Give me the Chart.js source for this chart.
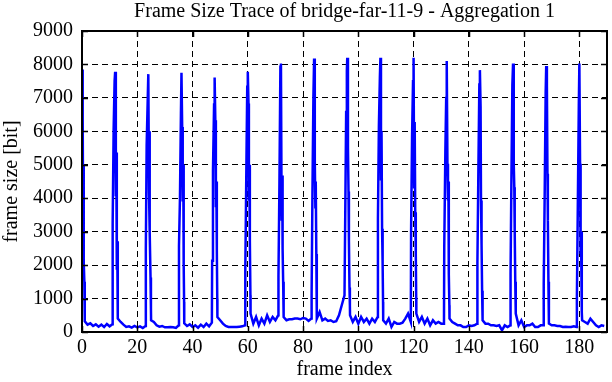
<!DOCTYPE html>
<html>
<head>
<meta charset="utf-8">
<script src="https://cdn.jsdelivr.net/npm/chart.js@4/dist/chart.umd.min.js"></script>
<style>
  html, body { margin: 0; padding: 0; background: #fff; }
  #wrap { width: 612px; height: 382px; }
</style>
</head>
<body>
<div id="wrap"><canvas id="chart" width="612" height="382"></canvas></div>
<script>
// frame size per integer frame index 0..189 (I-frame peaks every 12 frames)
const frameSizes = [
  7850, 320, 220, 260, 180, 230, 160, 220, 150, 240, 170, 230,
  7780, 400, 300, 220, 150, 170, 130, 180, 140, 170, 120, 180,
  7710, 350, 300, 200, 160, 180, 140, 140, 150, 140, 120, 200,
  7750, 260, 180, 230, 150, 200, 130, 220, 150, 250, 170, 280,
  7610, 450, 350, 250, 180, 150, 150, 150, 150, 160, 170, 200,
  7780, 550, 250, 450, 200, 400, 250, 500, 300, 450, 350, 500,
  8030, 450, 350, 380, 380, 400, 400, 380, 420, 400, 330, 400,
  8180, 400, 600, 350, 400, 330, 350, 300, 320, 500, 800, 1100,
  8200, 500, 300, 450, 250, 450, 300, 400, 250, 400, 300, 450,
  8200, 350, 250, 400, 150, 300, 250, 250, 280, 400, 550, 300,
  8200, 550, 300, 450, 250, 400, 200, 350, 250, 300, 250, 250,
  8100, 400, 300, 250, 200, 200, 150, 150, 200, 180, 200, 250,
  7830, 350, 250, 250, 200, 200, 180, 200, 50, 200, 150, 200,
  8030, 550, 200, 350, 150, 200, 200, 250, 150, 150, 200, 200,
  7950, 250, 200, 200, 180, 180, 150, 160, 150, 150, 170, 150,
  8030, 350, 300, 250, 400, 300, 200, 150, 200, 180
];

// sub-frame detail inside each I-frame spike: [frame index, size]
const spikeDetail = [
  [0.25, 6400], [0.4, 3600], [0.55, 5000], [0.7, 2100], [0.85, 1500],
  [11.1, 3270], [11.45, 6060], [11.8, 7500], [12.25, 4060], [12.4, 5370], [12.6, 1860], [12.75, 2710], [12.9, 900],
  [23.1, 2500], [23.4, 5580], [23.8, 7000], [24.25, 4180], [24.4, 6000], [24.6, 2980], [24.8, 1630], [24.95, 700],
  [35.1, 2580], [35.45, 4000], [35.8, 6500], [36.25, 6130], [36.45, 3900], [36.65, 5000], [36.8, 2040], [36.95, 900],
  [47.1, 2130], [47.4, 4830], [47.8, 6800], [48.25, 6330], [48.45, 3730], [48.6, 4500], [48.8, 2430], [48.95, 1000],
  [59.1, 1890], [59.45, 4630], [59.8, 7330], [60.25, 6830], [60.4, 3930], [60.55, 5000], [60.75, 2730], [60.95, 1100],
  [71.1, 1680], [71.45, 4430], [71.8, 7930], [72.25, 3330], [72.45, 4680], [72.6, 2500], [72.8, 1500], [72.95, 800],
  [83.1, 1140], [83.4, 4180], [83.75, 7030], [84.25, 5130], [84.45, 3730], [84.6, 4500], [84.8, 2330], [84.95, 1000],
  [95.3, 3780], [95.6, 6580], [95.85, 7800], [96.25, 5530], [96.45, 4200], [96.6, 2730], [96.8, 1330], [96.95, 800],
  [107.1, 3390], [107.45, 6180], [107.8, 7600], [108.2, 4530], [108.4, 6000], [108.6, 3090], [108.8, 2040], [108.95, 900],
  [119.1, 3030], [119.45, 5830], [119.8, 7500], [120.2, 4330], [120.4, 6280], [120.6, 3580], [120.8, 2330], [120.95, 1000],
  [131.1, 2530], [131.5, 5380], [131.8, 7000], [132.25, 5030], [132.45, 3930], [132.6, 4500], [132.75, 1730], [132.95, 800],
  [143.1, 2080], [143.45, 4830], [143.8, 7400], [144.25, 6730], [144.4, 3930], [144.6, 2630], [144.8, 1230], [144.95, 700],
  [155.1, 1730], [155.4, 4530], [155.75, 7380], [156.25, 5030], [156.45, 4330], [156.6, 3030], [156.8, 1500], [156.95, 800],
  [167.1, 1430], [167.45, 4130], [167.8, 7130], [168.25, 7380], [168.45, 4730], [168.6, 3330], [168.8, 1500], [168.95, 700],
  [179.1, 1030], [179.45, 3880], [179.8, 6780], [180.25, 5030], [180.45, 2330], [180.6, 3000], [180.8, 1030], [180.95, 600]
];

const xTicks = [0, 20, 40, 60, 80, 100, 120, 140, 160, 180];
const yTicks = [0, 1000, 2000, 3000, 4000, 5000, 6000, 7000, 8000, 9000];

const points = frameSizes.map((y, x) => ({ x, y }))
  .concat(spikeDetail.map(([x, y]) => ({ x, y })))
  .sort((a, b) => a.x - b.x);

const serif = '"Liberation Serif", "Times New Roman", serif';

// gnuplot-style frame: solid border and inward tick marks on all four sides
const framePlugin = {
  id: 'frame',
  afterDraw(chart) {
    const { ctx, chartArea: a, scales } = chart;
    const len = 6;
    ctx.save();
    ctx.strokeStyle = '#000';
    ctx.lineWidth = 1.5;
    ctx.beginPath();
    xTicks.forEach((v) => {
      const px = Math.round(scales.x.getPixelForValue(v)) + 0.5;
      ctx.moveTo(px, a.bottom); ctx.lineTo(px, a.bottom - len);
      ctx.moveTo(px, a.top); ctx.lineTo(px, a.top + len);
    });
    yTicks.forEach((v) => {
      const py = Math.round(scales.y.getPixelForValue(v)) + 0.5;
      ctx.moveTo(a.left, py); ctx.lineTo(a.left + len, py);
      ctx.moveTo(a.right, py); ctx.lineTo(a.right - len, py);
    });
    ctx.stroke();
    ctx.lineWidth = 2;
    ctx.strokeRect(a.left, a.top, a.right - a.left, a.bottom - a.top);
    ctx.restore();
  },
};

new Chart(document.getElementById('chart'), {
  type: 'line',
  data: {
    datasets: [{
      data: points,
      borderColor: '#0000ff',
      borderWidth: 2.5,
      pointRadius: 0,
      tension: 0,
      fill: false,
    }],
  },
  options: {
    responsive: false,
    animation: false,
    layout: { padding: { left: 0, right: 5, top: 0, bottom: 0 } },
    plugins: {
      legend: { display: false },
      tooltip: { enabled: false },
      title: {
        display: true,
        fullSize: false,
        text: 'Frame Size Trace of bridge-far-11-9 - Aggregation 1',
        color: '#000',
        font: { family: serif, size: 20, weight: 'normal', lineHeight: 1.2 },
        padding: { top: 0, bottom: 7 },
      },
    },
    scales: {
      x: {
        type: 'linear',
        min: 0,
        max: 190,
        afterBuildTicks: (s) => { s.ticks = xTicks.map((value) => ({ value })); },
        afterFit: (s) => { s.height = 50; },
        ticks: { color: '#000', padding: 4, maxRotation: 0, font: { family: serif, size: 20 } },
        grid: { color: '#000', lineWidth: 1, drawTicks: false },
        border: { display: false, dash: [6, 4] },
        title: {
          display: true,
          text: 'frame index',
          color: '#000',
          padding: { top: 0, bottom: 0 },
          font: { family: serif, size: 20 },
        },
      },
      y: {
        min: 0,
        max: 9000,
        afterBuildTicks: (s) => { s.ticks = yTicks.map((value) => ({ value })); },
        afterFit: (s) => { s.width = 82; },
        ticks: {
          color: '#000',
          padding: 9,
          font: { family: serif, size: 20 },
          callback: (value) => String(value),
        },
        grid: { color: '#000', lineWidth: 1, drawTicks: false },
        border: { display: false, dash: [6, 4] },
        title: {
          display: true,
          text: 'frame size [bit]',
          color: '#000',
          padding: { top: 0, bottom: 0 },
          font: { family: serif, size: 20 },
        },
      },
    },
  },
  plugins: [framePlugin],
});
</script>
</body>
</html>
